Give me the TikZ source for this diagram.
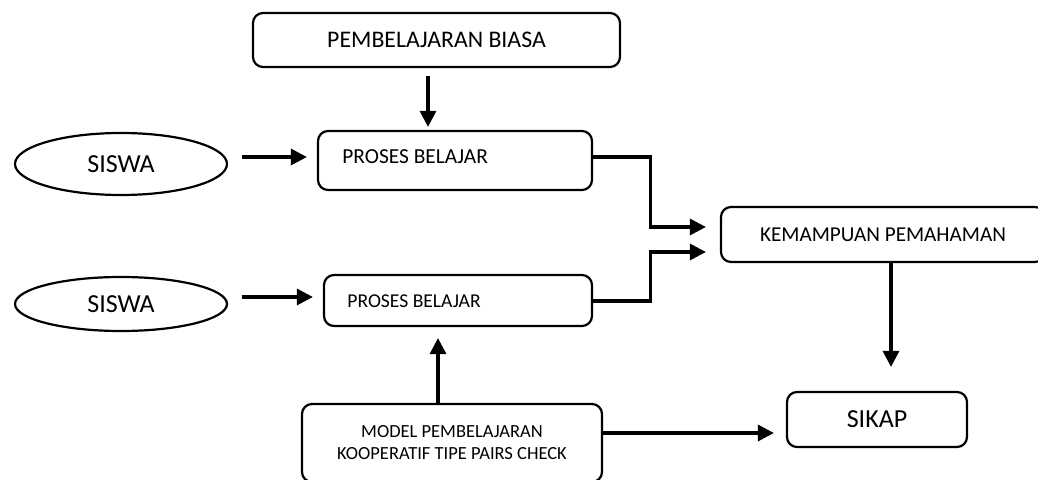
\documentclass[tikz,border=0pt]{standalone}
\usepackage{fontspec}
\setmainfont{Carlito}
\usetikzlibrary{arrows.meta,shapes.geometric}
\begin{document}
\begin{tikzpicture}[x=0.5pt,y=-0.5pt,
  box/.style={draw, line width=1.1pt, rounded corners=5pt, inner sep=0pt},
  oval/.style={draw, ellipse, line width=1.1pt, inner sep=0pt},
  lbl/.style={inner sep=0pt},
  arr/.style={line width=1.6pt, -{Triangle[length=8pt,width=8pt]}}]
\useasboundingbox (0,0) rectangle (1038,480);
\clip (0,0) rectangle (1038,480);
% boxes
\node[box, minimum width=183.5pt, minimum height=27pt, font=\fontsize{11.9}{14}\selectfont] (top) at (436.5,40) {PEMBELAJARAN BIASA};
\node[box, minimum width=137pt, minimum height=29.5pt] (pb1) at (455,160.5) {};
\node[lbl, anchor=west, font=\fontsize{10.7}{13}\selectfont] (pb1t) at (342,157) {PROSES BELAJAR};
\node[box, minimum width=134pt, minimum height=25.5pt] (pb2) at (458,300.5) {};
\node[lbl, anchor=west, font=\fontsize{9.8}{12}\selectfont] (pb2t) at (347,301) {PROSES BELAJAR};
\node[oval, minimum width=106pt, minimum height=31pt, font=\fontsize{13}{16}\selectfont] (s1) at (121,164) {SISWA};
\node[oval, minimum width=106pt, minimum height=27pt, font=\fontsize{13}{16}\selectfont] (s2) at (121,304) {SISWA};
\node[box, minimum width=162pt, minimum height=27.5pt, font=\fontsize{10.6}{13}\selectfont] (kem) at (883,234.5) {KEMAMPUAN PEMAHAMAN};
\node[box, minimum width=90pt, minimum height=27.5pt, font=\fontsize{13}{16}\selectfont] (sikap) at (877,419.5) {SIKAP};
\node[box, minimum width=150pt, minimum height=39pt, align=center, font=\fontsize{9.25}{11}\selectfont] (model) at (452,443) {MODEL PEMBELAJARAN\\KOOPERATIF TIPE PAIRS CHECK};
% connectors
\coordinate (a1s) at ([xshift=7pt,yshift=3.5pt]s1.east);
\draw[arr] (a1s) -- ([xshift=-5pt]pb1.west |- a1s);
\coordinate (a2s) at ([xshift=7pt,yshift=3.5pt]s2.east);
\draw[arr] (a2s) -- ([xshift=-5pt]pb2.west |- a2s);
\coordinate (t0) at ([xshift=-4.25pt,yshift=-4pt]top.south);
\draw[arr] (t0) -- ([yshift=1.5pt]t0 |- pb1.north);
\draw[arr] (pb1.east |- pb1t) -- ++(57,0) |- ([xshift=-7pt,yshift=3.75pt]kem.west);
\draw[arr] (pb2.east |- pb2t) -- ++(57,0) |- ([xshift=-7pt,yshift=-8.75pt]kem.west);
\coordinate (k0) at ([xshift=4pt]kem.south);
\draw[arr] (k0) -- ([yshift=12pt]k0 |- sikap.north);
\coordinate (m1) at ([xshift=-7pt]model.north);
\draw[arr] (m1) -- ([yshift=-5.5pt]m1 |- pb2.south);
\coordinate (m0) at ([yshift=5pt]model.east);
\draw[arr] (m0) -- ([xshift=-6pt]sikap.west |- m0);
\end{tikzpicture}
\end{document}
